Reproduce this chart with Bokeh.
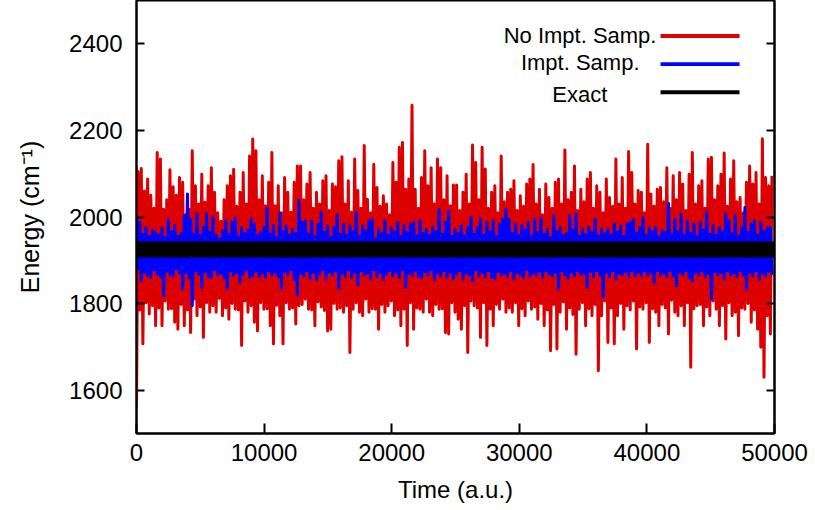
import numpy as np
from bokeh.plotting import figure
from bokeh.models import Range1d, FixedTicker, LinearAxis, Span, Label, BoxAnnotation
from bokeh.embed import file_html
from bokeh.resources import INLINE

# ---------------- data ----------------
T_END = 49800          # last sample time (a.u.)
EXACT = 1925           # exact energy (cm^-1)

# "No Impt. Samp." : successive local maxima / minima of the trace
RED_PEAKS = [
    2105, 2112, 2060, 2088, 2050, 2020, 2149, 2134, 2018, 2040,
    2109, 2070, 2050, 2091, 2080, 2005, 2018, 2153, 2072, 2030,
    2099, 2034, 2072, 2114, 2057, 2010, 1990, 2040, 2072, 2095,
    2110, 2025, 2057, 2103, 2030, 2141, 2180, 2153, 2040, 2095,
    2026, 2080, 2149, 2026, 2072, 2010, 2091, 2057, 2011, 2080,
    2118, 2118, 2040, 2076, 2103, 2020, 2057, 2030, 2084, 2095,
    2015, 2076, 2070, 2130, 2139, 2030, 2084, 2011, 2134, 2061,
    2020, 2165, 2041, 2010, 2122, 2068, 2025, 2049, 2030, 2005,
    2126, 2080, 2161, 2172, 2064, 2088, 2258, 2064, 2020, 2091,
    2153, 2072, 2114, 2030, 2134, 2114, 2040, 2095, 2026, 2074,
    2074, 2015, 2057, 2099, 2030, 2166, 2126, 2040, 2161, 2111,
    2020, 2057, 2072, 2010, 2141, 2035, 2057, 2064, 2084, 2015,
    2049, 2025, 2076, 2088, 2121, 2030, 2064, 2005, 2076, 2045,
    2020, 2080, 2088, 2030, 2155, 2040, 2057, 2118, 2015, 2064,
    2035, 2088, 2103, 2020, 2072, 2057, 2010, 2088, 2045, 2025,
    2134, 2030, 2091, 2020, 2151, 2103, 2030, 2061, 2057, 2010,
    2168, 2053, 2025, 2064, 2068, 2035, 2114, 2020, 2095, 2040,
    2103, 2076, 2015, 2099, 2149, 2030, 2072, 2084, 2020, 2134,
    2138, 2040, 2072, 2099, 2148, 2025, 2088, 2130, 2035, 2045,
    2010, 2080, 2118, 2076, 2103, 2030, 2181, 2091, 2072, 2095,
]
RED_TROUGHS = [
    1560, 1785, 1707, 1802, 1776, 1795, 1749, 1790, 1749, 1806,
    1787, 1788, 1757, 1741, 1798, 1749, 1785, 1733, 1810, 1772,
    1792, 1722, 1802, 1780, 1795, 1780, 1812, 1772, 1790, 1764,
    1800, 1787, 1785, 1703, 1806, 1780, 1795, 1757, 1737, 1802,
    1787, 1788, 1749, 1707, 1796, 1772, 1707, 1802, 1787, 1790,
    1753, 1795, 1798, 1810, 1787, 1785, 1749, 1804, 1792, 1784,
    1737, 1741, 1800, 1787, 1790, 1780, 1795, 1687, 1787, 1802,
    1780, 1772, 1810, 1780, 1788, 1787, 1741, 1798, 1780, 1795,
    1806, 1772, 1785, 1749, 1787, 1703, 1802, 1741, 1790, 1787,
    1780, 1810, 1780, 1772, 1798, 1787, 1788, 1733, 1730, 1802,
    1780, 1764, 1741, 1795, 1687, 1806, 1795, 1790, 1722, 1802,
    1703, 1787, 1749, 1798, 1787, 1810, 1780, 1790, 1780, 1802,
    1749, 1788, 1772, 1806, 1787, 1792, 1764, 1800, 1749, 1785,
    1691, 1798, 1695, 1780, 1804, 1741, 1790, 1775, 1683, 1787,
    1802, 1749, 1788, 1772, 1798, 1645, 1772, 1806, 1710, 1790,
    1707, 1772, 1800, 1741, 1795, 1785, 1806, 1695, 1792, 1787,
    1802, 1710, 1788, 1780, 1749, 1798, 1790, 1730, 1808, 1780,
    1772, 1795, 1749, 1802, 1653, 1788, 1795, 1798, 1749, 1792,
    1772, 1806, 1787, 1749, 1795, 1718, 1802, 1772, 1780, 1726,
    1790, 1787, 1800, 1757, 1785, 1741, 1699, 1630, 1772, 1730,
]

# "Impt. Samp." : successive local maxima / minima of the trace
BLUE_PEAKS = [
    2003, 1988, 1960, 1976, 1955, 1970, 1964, 1958, 1975, 1952,
    1994, 1966, 1980, 1955, 1962, 2003, 2053, 1995, 1960, 2007,
    1958, 1976, 2007, 1965, 1999, 1957, 1950, 1968, 1991, 1960,
    1988, 1997, 1955, 1976, 1962, 1970, 1995, 1984, 1958, 1964,
    1975, 2021, 1960, 1980, 1952, 2009, 1966, 1980, 1958, 1972,
    1962, 2038, 1988, 1991, 1960, 1991, 1955, 1984, 2011, 1965,
    1980, 1952, 1976, 2005, 1960, 1984, 1958, 1980, 1966, 2011,
    1955, 1980, 1968, 1991, 1994, 1950, 1972, 1962, 1991, 1958,
    1976, 1966, 1988, 1955, 1980, 1964, 1984, 1988, 1956, 1991,
    1962, 1972, 1958, 1976, 1966, 2017, 1960, 1988, 2014, 1955,
    1972, 1962, 1980, 1956, 1976, 1999, 1960, 1976, 1995, 1958,
    1988, 1966, 1991, 1955, 1984, 1995, 2018, 1995, 1962, 1984,
    1958, 1980, 1970, 1988, 1955, 1995, 1964, 1997, 1960, 1972,
    1952, 2003, 1966, 1976, 1958, 1962, 2003, 1970, 2007, 1955,
    1972, 1960, 1976, 1964, 1995, 1956, 1972, 1962, 1972, 1958,
    1984, 1966, 1980, 1955, 1984, 1988, 1994, 1962, 1976, 1999,
    1958, 1976, 1966, 1976, 1955, 1968, 1964, 2032, 1960, 1995,
    1966, 2007, 1958, 1991, 1962, 1984, 1955, 1988, 1970, 2011,
    1960, 1980, 1958, 1976, 1966, 2007, 1991, 1962, 2003, 1955,
    1976, 2022, 1964, 1984, 1991, 1958, 1988, 1966, 1976, 1976,
]
BLUE_TROUGHS = [
    1880, 1853, 1872, 1865, 1860, 1878, 1868, 1862, 1818, 1875,
    1866, 1864, 1880, 1870, 1834, 1872, 1860, 1795, 1876, 1868,
    1837, 1874, 1862, 1860, 1878, 1866, 1870, 1858, 1835, 1875,
    1865, 1872, 1849, 1868, 1878, 1860, 1864, 1875, 1862, 1870,
    1860, 1876, 1866, 1872, 1862, 1835, 1874, 1868, 1878, 1856,
    1820, 1870, 1864, 1876, 1858, 1872, 1855, 1868, 1878, 1857,
    1872, 1866, 1876, 1835, 1870, 1862, 1878, 1860, 1872, 1843,
    1876, 1866, 1870, 1857, 1878, 1862, 1872, 1855, 1868, 1876,
    1864, 1872, 1860, 1878, 1837, 1870, 1866, 1876, 1862, 1860,
    1874, 1866, 1878, 1855, 1870, 1864, 1876, 1860, 1872, 1857,
    1868, 1876, 1857, 1870, 1866, 1852, 1878, 1864, 1872, 1862,
    1876, 1860, 1858, 1874, 1866, 1870, 1862, 1876, 1857, 1872,
    1866, 1860, 1878, 1864, 1870, 1866, 1874, 1860, 1876, 1868,
    1864, 1872, 1834, 1876, 1866, 1858, 1872, 1864, 1876, 1866,
    1870, 1837, 1874, 1862, 1876, 1866, 1814, 1872, 1862, 1876,
    1857, 1870, 1866, 1874, 1862, 1876, 1864, 1872, 1864, 1876,
    1866, 1872, 1849, 1876, 1866, 1870, 1862, 1876, 1864, 1841,
    1872, 1866, 1876, 1860, 1853, 1872, 1866, 1876, 1862, 1870,
    1810, 1874, 1866, 1872, 1857, 1876, 1866, 1870, 1862, 1876,
    1866, 1834, 1872, 1864, 1876, 1856, 1870, 1864, 1874, 1866,
]

X_TICKS = [0, 10000, 20000, 30000, 40000, 50000]
Y_TICKS = [1600, 1800, 2000, 2200, 2400]
LEGEND_LABELS = ["No Impt. Samp.", "Impt. Samp.", "Exact"]

RED = "#dd0000"
BLUE = "#0000ff"
FONT = "Liberation Sans"


def interleave(first, second):
    out = []
    for a, b in zip(first, second):
        out.extend([a, b])
    return np.array(out, dtype=float)


red_y = interleave(RED_TROUGHS, RED_PEAKS)
blue_y = interleave(BLUE_PEAKS, BLUE_TROUGHS)
red_t = np.arange(len(red_y)) * (T_END / (len(red_y) - 1))
blue_t = np.arange(len(blue_y)) * (T_END / (len(blue_y) - 1))

p = figure(width=815, height=510, output_backend="svg", toolbar_location=None,
           title=None,
           x_range=Range1d(0, 50000), y_range=Range1d(1500, 2500),
           min_border_left=136, min_border_right=41,
           min_border_top=0, min_border_bottom=77)
p.background_fill_color = "white"
p.border_fill_color = "white"
p.outline_line_color = "black"
p.outline_line_width = 2
p.xgrid.visible = False
p.ygrid.visible = False

p.line(red_t, red_y, line_color=RED, line_width=3, line_join="round")
p.line(blue_t, blue_y, line_color=BLUE, line_width=3, line_join="round")
p.add_layout(Span(location=EXACT, dimension="width", line_color="black", line_width=16))

# axes
for ax in (p.xaxis[0], p.yaxis[0]):
    ax.axis_line_width = 2
    ax.axis_line_color = "black"
    ax.major_tick_line_width = 2
    ax.major_tick_out = 0
    ax.minor_tick_line_color = None
    ax.major_label_text_font = FONT
    ax.major_label_text_font_size = "24px"
    ax.major_label_text_color = "black"
    ax.axis_label_text_font = FONT
    ax.axis_label_text_font_style = "normal"
    ax.axis_label_text_color = "black"

p.xaxis[0].ticker = FixedTicker(ticks=X_TICKS)
p.xaxis[0].major_tick_in = 10
p.xaxis[0].major_label_standoff = 10
p.xaxis[0].axis_label = "Time (a.u.)"
p.xaxis[0].axis_label_text_font_size = "24px"
p.xaxis[0].axis_label_standoff = 12

p.yaxis[0].ticker = FixedTicker(ticks=Y_TICKS)
p.yaxis[0].major_tick_in = 8
p.yaxis[0].major_label_standoff = 14
p.yaxis[0].axis_label = "Energy (cm\u207b\u00b9)"
p.yaxis[0].axis_label_text_font_size = "25px"
p.yaxis[0].axis_label_standoff = 22

# mirrored ticks on the right, no labels
right = LinearAxis(ticker=FixedTicker(ticks=Y_TICKS))
right.axis_line_width = 2
right.major_tick_line_width = 2
right.major_tick_in = 8
right.major_tick_out = 0
right.minor_tick_line_color = None
right.major_label_text_color = None
right.major_label_text_font_size = "10px"
right.major_label_standoff = 0
p.add_layout(right, "right")

# legend (labels to the left of the line samples)
LEG_TEXT_RIGHT = [40750, 39420, 36900]
LEG_TEXT_Y = [2419, 2357, 2283]
LEG_LINE_Y = [2418, 2353, 2288]
LEG_LINE_X0, LEG_LINE_X1 = 41070, 47260
LEG_COLORS = [RED, BLUE, "black"]
for lab, tx, ty, ly, col in zip(LEGEND_LABELS, LEG_TEXT_RIGHT, LEG_TEXT_Y, LEG_LINE_Y, LEG_COLORS):
    p.add_layout(Label(x=tx, y=ty, text=lab, text_align="right", text_baseline="middle",
                       text_font=FONT, text_font_size="22px", text_color="black"))
    p.add_layout(BoxAnnotation(left=LEG_LINE_X0, right=LEG_LINE_X1, bottom=ly - 4.5, top=ly + 4.5,
                               fill_color=col, fill_alpha=1, line_color=None))

open("out.html", "w").write(file_html(p, INLINE))
